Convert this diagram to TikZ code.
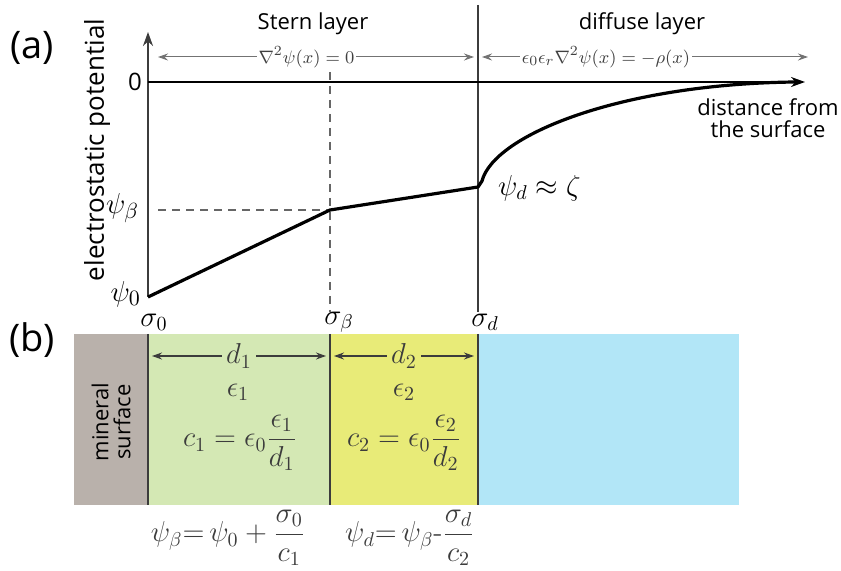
\documentclass[tikz,border=0pt]{standalone}
\usepackage{amsmath,amssymb}
\usepackage[no-math]{fontspec}
\usepackage{xcolor}
\usetikzlibrary{arrows.meta, positioning}
\newfontfamily\labelfont{Open Sans}
\definecolor{mineralgray}{RGB}{185, 177, 171}
\definecolor{sterngreen}{RGB}{212, 232, 180}
\definecolor{sternyellow}{RGB}{232, 235, 120}
\definecolor{diffuseblue}{RGB}{178, 230, 247}
\definecolor{inkgray}{RGB}{60, 60, 60}

\begin{document}
\begin{tikzpicture}[
    x=0.5pt, y=-0.5pt,
    panel/.style={font=\labelfont\fontsize{19}{21}\selectfont},
    word/.style={font=\labelfont\fontsize{11}{13}\selectfont, align=center},
    bigmath/.style={font=\fontsize{14}{16}\selectfont, text=inkgray},
    smallmath/.style={font=\fontsize{9.5}{11}\selectfont, text=black!75, fill=white, inner sep=1pt},
    axis/.style={-{Stealth[length=7pt, width=5pt]}, line width=1pt},
    span/.style={{Stealth[length=5pt, width=3.5pt]}-{Stealth[length=5pt, width=3.5pt]}, draw=black!55, line width=0.5pt},
    gap/.style={{Stealth[length=5pt, width=3.5pt]}-{Stealth[length=5pt, width=3.5pt]}, draw=inkgray, line width=0.6pt},
    guide/.style={dashed, draw=black!60, line width=0.6pt, dash pattern=on 4pt off 3pt},
    wall/.style={draw=inkgray, line width=1pt},
    potential/.style={line width=1.6pt, line join=round}
]
    \useasboundingbox (0,0) rectangle (841,571);

    % Panel (b): layers
    \fill[mineralgray] (74,334) rectangle (148,505);
    \fill[sterngreen] (148,334) rectangle (330,505);
    \fill[sternyellow] (330,334) rectangle (478,505);
    \fill[diffuseblue] (478,334) rectangle (739,505);
    \draw[wall] (148,334) -- (148,505);
    \draw[wall] (330,334) -- (330,505);
    \draw[wall] (478,334) -- (478,505);

    % Panel (a): axes and guides
    \coordinate (origin) at (148,297);
    \coordinate (ytop) at (148,32);
    \coordinate (zero) at (148,82);
    \coordinate (xend) at (805,82);
    \draw[guide] (330,72) -- (330,312);
    \draw[guide] (158,210) -- (330,210);
    \draw[draw=inkgray, line width=0.8pt] (478,5) -- (478,312);
    \draw[axis, draw=inkgray] (origin) -- (ytop);
    \draw[axis] (zero) -- (xend);

    % Potential profile
    \coordinate (p0) at (148,297);
    \coordinate (pb) at (330,210);
    \coordinate (pd) at (478,187);
    \draw[potential] (p0) -- (pb) -- (pd) -- (482,181)
        .. controls (494,135) and (620,84) .. (795,82);

    % Axis labels
    \node[panel] (lbla) at (32,48) {(a)};
    \node[panel] (lblb) at (32,340) {(b)};
    \node[word, rotate=90, font=\labelfont\fontsize{13}{15}\selectfont] (ylabel) at (97,150) {electrostatic potential};
    \node[word] (xlabel) at (768,118) {distance from\\[-2pt]the surface};
    \node[font=\labelfont\fontsize{12}{14}\selectfont] (zerolbl) at (135,82) {0};
    \node[bigmath, text=black, anchor=east, font=\fontsize{15}{17}\selectfont] (psib) at (146,208) {$\psi_\beta$};
    \node[bigmath, text=black, anchor=east, font=\fontsize{15}{17}\selectfont] (psi0) at (148,294) {$\psi_0$};
    \node[bigmath, text=black, anchor=west] (psid) at (491,188) {$\psi_d \approx \zeta$};
    \node[bigmath, text=black] (sig0) at (154,322) {$\sigma_0$};
    \node[bigmath, text=black] (sigb) at (339,322) {$\sigma_\beta$};
    \node[bigmath, text=black] (sigd) at (485,322) {$\sigma_d$};

    % Layer headings and equations
    \node[word] (stern) at (313,24) {Stern layer};
    \node[word] (diffuse) at (642,24) {diffuse layer};
    \coordinate (sternL) at (158,57);
    \coordinate (sternR) at (474,57);
    \coordinate (diffL) at (482,57);
    \coordinate (diffR) at (808,57);
    \draw[span] (sternL) -- node[smallmath, pos=0.47]{$\nabla^2\psi(x)=0$} (sternR);
    \draw[span] (diffL) -- node[smallmath, pos=0.38]{$\epsilon_0\epsilon_r\nabla^2\psi(x)=-\rho(x)$} (diffR);

    % Layer properties
    \node[word, rotate=90] (mineral) at (111,422) {mineral\\[-2pt]surface};
    \coordinate (gap1L) at (152,356);
    \coordinate (gap1R) at (326,356);
    \coordinate (gap2L) at (334,356);
    \coordinate (gap2R) at (474,356);
    \draw[gap] (gap1L) -- node[bigmath, fill=sterngreen, inner sep=2pt]{$d_1$} (gap1R);
    \draw[gap] (gap2L) -- node[bigmath, fill=sternyellow, inner sep=2pt]{$d_2$} (gap2R);
    \node[bigmath] (eps1) at (238,392) {$\epsilon_1$};
    \node[bigmath] (eps2) at (404,392) {$\epsilon_2$};
    \node[bigmath] (cap1) at (240,443) {$c_1 = \epsilon_0\dfrac{\epsilon_1}{d_1}$};
    \node[bigmath] (cap2) at (404,443) {$c_2 = \epsilon_0\dfrac{\epsilon_2}{d_2}$};
    \node[bigmath] (jump1) at (228,538) {$\psi_\beta{=}\,\psi_0+\dfrac{\sigma_0}{c_1}$};
    \node[bigmath] (jump2) at (410,538) {$\psi_d{=}\,\psi_\beta\text{-}\dfrac{\sigma_d}{c_2}$};
\end{tikzpicture}
\end{document}
